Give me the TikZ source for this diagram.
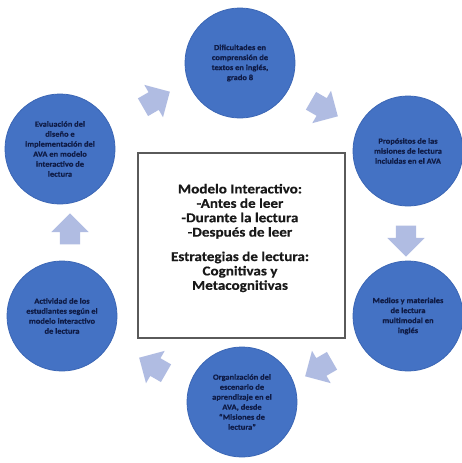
\documentclass[tikz,border=0pt]{standalone}
\usepackage{fontspec}
\setmainfont{Carlito}
\newfontfamily\heavy{Carlito}[UprightFont={* Bold}, FakeStretch=1.08, FakeBold=0.6]
\newfontfamily\heavywide{Carlito}[UprightFont={* Bold}, FakeStretch=1.12, FakeBold=0.4]
\usetikzlibrary{shapes.arrows}
\definecolor{circblue}{HTML}{4472C4}
\definecolor{circedge}{HTML}{3B66B5}
\definecolor{navytext}{HTML}{0F1B45}
\definecolor{arrowfill}{HTML}{B0BCE2}
\definecolor{boxedge}{HTML}{5A5A5A}
\tikzset{
  stepcircle/.style={circle, fill=circblue, draw=circedge, line width=0.8pt,
    minimum size=110pt, inner sep=0pt, align=center, text=navytext,
    font=\heavy\fontsize{7.8}{10}\selectfont},
  blockarrow/.style={single arrow, fill=arrowfill, draw=none,
    minimum height=31pt, minimum width=37pt, inner sep=10pt,
    single arrow head extend=8.5pt},
  centerbox/.style={draw=boxedge, line width=1.1pt, fill=white,
    minimum width=207pt, minimum height=185pt},
  centertext/.style={align=center, text=black!90,
    font=\heavywide\fontsize{13.5}{14.4}\selectfont}
}
\begin{document}
\begin{tikzpicture}[x=1pt,y=-1pt]
\useasboundingbox (0,0) rectangle (461,463);
\fill[white] (0,0) rectangle (461,463);

\node[centerbox] (box) at (241.5,245.5) {};
\node[centertext] (boxtext) at (240,238) {Modelo Interactivo:\\-Antes de leer\\-Durante la lectura\\-Después de leer\\[10pt]Estrategias de lectura:\\Cognitivas y\\Metacognitivas};

\node[stepcircle] (c1) at (240,63) {Dificultades en\\comprensión de\\textos en inglés,\\grado 8};
\node[stepcircle] (c2) at (408,151) {Propósitos de las\\misiones de lectura\\incluidas en el AVA};
\node[stepcircle] (c3) at (408,316) {Medios y materiales\\de lectura\\multimodal en\\inglés};
\node[stepcircle] (c4) at (242,402) {Organización del\\escenario de\\aprendizaje en el\\AVA, desde\\“Misiones de\\lectura”};
\node[stepcircle] (c5) at (62,316) {Actividad de los\\estudiantes según el\\modelo interactivo\\de lectura};
\node[stepcircle] (c6) at (60,149) {Evaluación del\\diseño e\\implementación del\\AVA en modelo\\interactivo de\\lectura};

\node[blockarrow, rotate=30] (a61) at (152,102) {};
\node[blockarrow, rotate=-30] (a12) at (320,106) {};
\node[blockarrow, rotate=-90] (a23) at (406,236) {};
\node[blockarrow, rotate=-150] (a34) at (323,366) {};
\node[blockarrow, rotate=150] (a45) at (157,368) {};
\node[blockarrow, rotate=90] (a56) at (70,234) {};
\end{tikzpicture}
\end{document}
